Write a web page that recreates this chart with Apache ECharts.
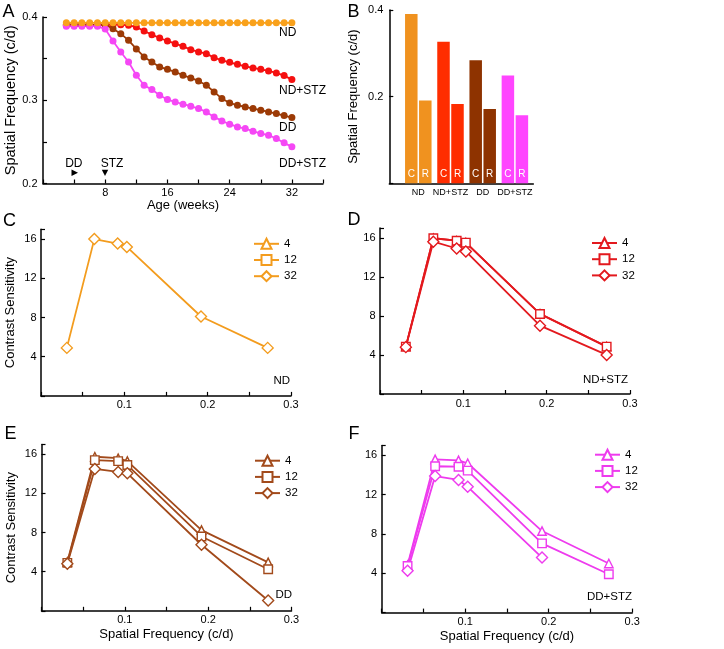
<!DOCTYPE html>
<html><head><meta charset="utf-8">
<script src="https://cdn.jsdelivr.net/npm/echarts/dist/echarts.min.js"></script>
<style>html,body{margin:0;padding:0;background:#fff}#c{width:724px;height:649px}</style>
</head><body><div id="c"></div>
<script>
// ---------- Panel A: acuity over age ----------
const weeks = [3,4,5,6,7,8,9,10,11,12,13,14,15,16,17,18,19,20,21,22,23,24,25,26,27,28,29,30,31,32];
const acuityND = [0.393,0.393,0.393,0.393,0.393,0.393,0.393,0.393,0.393,0.393,0.393,0.393,0.393,0.393,0.393,0.393,0.393,0.393,0.393,0.393,0.393,0.393,0.393,0.393,0.393,0.393,0.393,0.393,0.393,0.393];
const acuityNDSTZ = [0.3905,0.3905,0.3905,0.3905,0.3905,0.3905,0.3908,0.3908,0.390,0.388,0.3832,0.3788,0.3748,0.3712,0.368,0.3648,0.3608,0.358,0.356,0.3512,0.348,0.3456,0.3432,0.3408,0.3388,0.3372,0.3352,0.3328,0.3296,0.3248];
const acuityDD = [0.3905,0.3905,0.3905,0.3905,0.3905,0.3908,0.386,0.380,0.372,0.3616,0.352,0.346,0.340,0.3372,0.334,0.330,0.3268,0.3232,0.318,0.310,0.302,0.2968,0.294,0.292,0.290,0.288,0.286,0.284,0.2816,0.2792];
const acuityDDSTZ = [0.389,0.389,0.389,0.389,0.389,0.3855,0.3712,0.358,0.346,0.330,0.318,0.3128,0.306,0.3008,0.298,0.2952,0.2928,0.290,0.286,0.280,0.2752,0.2712,0.268,0.266,0.2628,0.260,0.258,0.254,0.2488,0.244];

// ---------- Panel B: bars ----------
const groups = ['ND','ND+STZ','DD','DD+STZ'];
const barC = [0.391,0.327,0.284,0.249];
const barR = [0.191,0.183,0.1715,0.157];

// ---------- Panels C-F: contrast sensitivity ----------
const sf = [0.031,0.064,0.092,0.103,0.192,0.272];
const ndW4 = [];   // hidden under the 32-week markers in the picture
const ndW12 = [];
const ndW32 = [4.9,16.0,15.55,15.2,8.1,4.9];
const ndStzW4 = [4.85,15.95,15.7,15.5,8.2,4.85];
const ndStzW12 = [4.85,15.95,15.7,15.5,8.2,4.85];
const ndStzW32 = [4.8,15.6,14.9,14.6,7.0,4.0];
const ddW4 = [5.0,15.75,15.6,15.3,8.25,4.95];
const ddW12 = [4.9,15.4,15.3,14.9,7.6,4.25];
const ddW32 = [4.8,14.5,14.2,14.05,6.75,1.05];
const ddStzW4 = [4.85,15.6,15.5,15.2,8.3,5.0];
const ddStzW12 = [4.75,14.9,14.85,14.45,7.05,3.9];
const ddStzW32 = [4.25,13.9,13.5,12.8,5.6];
const ageLabels = ['4','12','32'];

const FONT = '"Liberation Sans", Arial, Helvetica, sans-serif';
const lineCol = {ND:'#F9A11B', NDSTZ:'#F51010', DD:'#9C3A06', DDSTZ:'#F547F5'};
const barCol = ['#F0921F','#FF2D00','#8E3300','#FF45FF'];
const csCol = {C:'#F39C1E', D:'#E3191E', E:'#A24A1B', F:'#EE3BEE'};

function axisCommon(o){
  return Object.assign({
    nameLocation:'middle', nameMoveOverlap:false,
    nameTextStyle:{color:'#000', fontSize:13, fontFamily:FONT},
    axisLine:{show:true, onZero:false, lineStyle:{color:'#000', width:1.5}},
    axisTick:{show:true, inside:true, length:4, lineStyle:{color:'#000', width:1.2}},
    splitLine:{show:false}
  }, o);
}
function lbl(o){ return Object.assign({color:'#000', fontSize:11, fontFamily:FONT, margin:5}, o); }
const sfFmt = v => { const r = Math.round(v*100); return (r>0 && r%10===0) ? (r/100).toFixed(1) : ''; };
const csFmt = v => (v>0 && v%4===0) ? String(v) : '';

const grids = [
  {left:43, top:17, width:280, height:166.5},      // A
  {left:402.2, top:10, width:128.8, height:173.3}, // B bars
  {left:389.3, top:10, width:144, height:173.3},   // B frame
  {left:41, top:229.3, width:250, height:166.6},   // C
  {left:380, top:228, width:250, height:166},      // D
  {left:41.5, top:444.5, width:250, height:166.3}, // E
  {left:381.7, top:445.6, width:250.5, height:167} // F
].map(g => Object.assign({outerBoundsMode:'none', containLabel:false}, g));

const xAxis = [
  axisCommon({gridIndex:0, type:'value', min:0, max:36, interval:4, name:'Age (weeks)', nameGap:15,
    axisLabel:lbl({margin:4, formatter: v => (v>0 && v%8===0) ? String(v) : ''})}),
  axisCommon({gridIndex:1, type:'category', data:groups, axisLine:{show:false}, axisTick:{show:false},
    axisLabel:lbl({fontSize:9, margin:5, interval:0})}),
  axisCommon({gridIndex:2, type:'value', min:0, max:1, axisTick:{show:false}, axisLabel:{show:false}}),
  axisCommon({gridIndex:3, type:'value', min:0, max:0.3, interval:0.05, axisLabel:lbl({margin:4, formatter:sfFmt})}),
  axisCommon({gridIndex:4, type:'value', min:0, max:0.3, interval:0.05, axisLabel:lbl({margin:4, formatter:sfFmt})}),
  axisCommon({gridIndex:5, type:'value', min:0, max:0.3, interval:0.05, name:'Spatial Frequency (c/d)', nameGap:17, axisLabel:lbl({margin:4, formatter:sfFmt})}),
  axisCommon({gridIndex:6, type:'value', min:0, max:0.3, interval:0.05, name:'Spatial Frequency (c/d)', nameGap:17, axisLabel:lbl({margin:4, formatter:sfFmt})})
];
const yAxis = [
  axisCommon({gridIndex:0, type:'value', min:0.2, max:0.4, interval:0.05, name:'Spatial Frequency (c/d)', nameGap:25,
    nameTextStyle:{color:'#000', fontSize:14.5, fontFamily:FONT},
    axisLabel:lbl({margin:5.5, formatter: v => { const r = Math.round(v*100); return r%10===0 ? (r/100).toFixed(1) : ''; }})}),
  axisCommon({gridIndex:1, type:'value', min:0, max:0.4, show:false}),
  axisCommon({gridIndex:2, type:'value', min:0, max:0.4, interval:0.2, name:'Spatial Frequency (c/d)', nameGap:29,
    axisLabel:lbl({margin:6, formatter: v => v>0 ? v.toFixed(1) : ''})}),
  axisCommon({gridIndex:3, type:'value', min:0, max:17, interval:4, name:'Contrast Sensitivity', nameGap:24, axisLabel:lbl({margin:4.5, formatter:csFmt})}),
  axisCommon({gridIndex:4, type:'value', min:0, max:17, interval:4, axisLabel:lbl({margin:4.5, formatter:csFmt})}),
  axisCommon({gridIndex:5, type:'value', min:0, max:17, interval:4, name:'Contrast Sensitivity', nameGap:23.5, axisLabel:lbl({margin:4.5, formatter:csFmt})}),
  axisCommon({gridIndex:6, type:'value', min:0, max:17, interval:4, axisLabel:lbl({margin:4.5, formatter:csFmt})})
];

const series = [];
function acuitySeries(name, arr, col){
  series.push({name, type:'line', xAxisIndex:0, yAxisIndex:0, data: weeks.map((w,i)=>[w, arr[i]]),
    symbol:'circle', symbolSize:7, lineStyle:{color:col, width:1.8}, itemStyle:{color:col}, silent:true});
}
acuitySeries('ND+STZ', acuityNDSTZ, lineCol.NDSTZ);
acuitySeries('DD', acuityDD, lineCol.DD);
acuitySeries('DD+STZ', acuityDDSTZ, lineCol.DDSTZ);
acuitySeries('ND', acuityND, lineCol.ND);

function barSeries(name, arr, tag){
  series.push({name, type:'bar', xAxisIndex:1, yAxisIndex:1, data:arr, barWidth:12.5, barGap:'12%',
    itemStyle:{color: p => barCol[p.dataIndex]},
    label:{show:true, position:'insideBottom', distance:4, formatter:tag, color:'#fff', fontSize:10, fontFamily:FONT},
    silent:true});
}
barSeries('C', barC, 'C');
barSeries('R', barR, 'R');

const symbols = ['triangle','rect','diamond'];
const symSize = [8.5, 8.5, 11];
function csPanel(tag, gi, arrs){
  const col = csCol[tag];
  arrs.forEach((arr, k) => {
    series.push({name: ageLabels[k] + ' ' + tag, type:'line', xAxisIndex:gi, yAxisIndex:gi,
      data: arr.map((v,i)=>[sf[i], v]), symbol:symbols[k], symbolSize:symSize[k], showAllSymbol:true,
      lineStyle:{color:col, width:1.8}, itemStyle:{color:'#fff', borderColor:col, borderWidth:1.4}, silent:true});
  });
}
csPanel('C', 3, [ndW4, ndW12, ndW32]);
csPanel('D', 4, [ndStzW4, ndStzW12, ndStzW32]);
csPanel('E', 5, [ddW4, ddW12, ddW32]);
csPanel('F', 6, [ddStzW4, ddStzW12, ddStzW32]);

function legendFor(tag, left, top){
  return {orient:'vertical', left, top, itemWidth:25, itemHeight:12.5, itemGap:4.2, selectedMode:false,
    data: ageLabels.map(a => a + ' ' + tag), formatter: n => n.split(' ')[0],
    textStyle:{color:'#000', fontSize:11.5, fontFamily:FONT, padding:[0,0,0,0]}};
}

function txt(x, y, s, size, align){
  return {type:'text', x, y, style:{text:s, fill:'#000', font: size + 'px ' + FONT, textAlign:align||'left', textVerticalAlign:'middle'}, silent:true};
}
const graphic = [
  txt(2.5, 12, 'A', 18), txt(347.5, 12, 'B', 18), txt(3, 221, 'C', 18), txt(347.5, 220, 'D', 18),
  txt(4.5, 434, 'E', 18), txt(348.5, 434, 'F', 18),
  txt(279, 33, 'ND', 12), txt(279, 91, 'ND+STZ', 12), txt(279, 128, 'DD', 12), txt(279, 163.5, 'DD+STZ', 12),
  txt(73.8, 163.5, 'DD', 12, 'center'), txt(112, 163.5, 'STZ', 12, 'center'),
  {type:'polygon', shape:{points:[[71.5,169.5],[71.5,176],[78,172.8]]}, style:{fill:'#000'}, silent:true},
  {type:'polygon', shape:{points:[[101.8,169.8],[108.2,169.8],[105,176]]}, style:{fill:'#000'}, silent:true},
  txt(290, 381, 'ND', 11.5, 'right'), txt(628, 380, 'ND+STZ', 11.5, 'right'),
  txt(292, 595, 'DD', 11.5, 'right'), txt(632, 597, 'DD+STZ', 11.5, 'right')
];

const chart = echarts.init(document.getElementById('c'), null, {renderer:'canvas'});
chart.setOption({
  animation:false, backgroundColor:'#fff',
  textStyle:{fontFamily:FONT},
  grid:grids, xAxis, yAxis, series, graphic,
  legend:[legendFor('C',248,232.8), legendFor('D',586,232), legendFor('E',249,449.7), legendFor('F',589,443.7)]
});
</script></body></html>
